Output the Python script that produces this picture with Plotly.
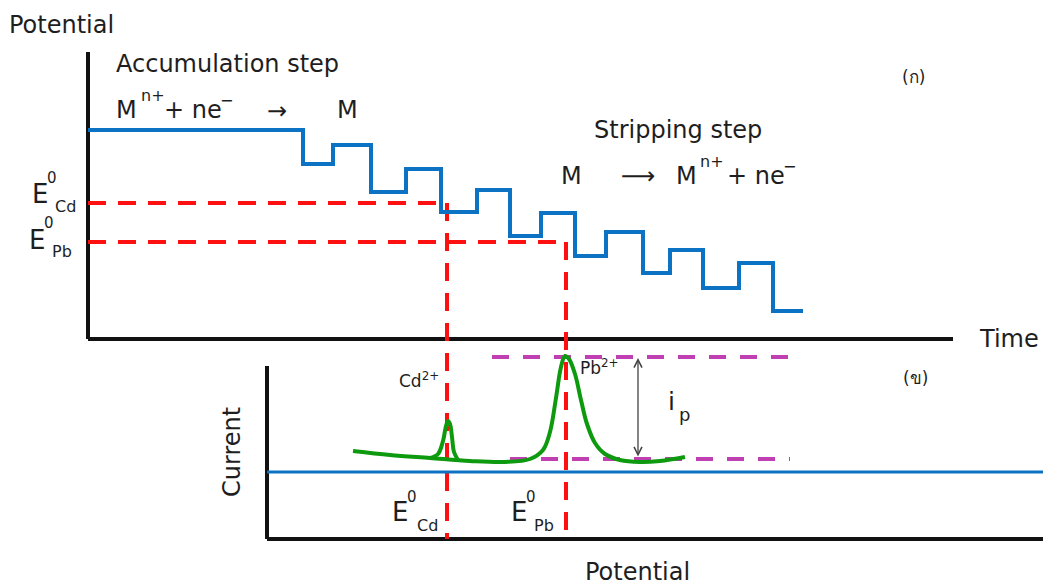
import plotly.graph_objects as go

# ---------------- data (diagram units = reference pixels) ----------------
# accumulation / stripping staircase (top panel)
step_x = [88, 303, 303, 333, 333, 371, 371, 406, 406, 441, 441, 477, 477, 510, 510, 541, 541,
          575, 575, 606, 606, 643, 643, 670, 670, 703, 703, 739, 739, 773, 773, 803]
step_y = [130, 130, 164, 164, 145, 145, 192, 192, 169, 169, 212, 212, 190, 190, 236, 236, 213,
          213, 256, 256, 232, 232, 273, 273, 250, 250, 288, 288, 263, 263, 311, 311]

# standard potentials (top panel levels) and their positions on the potential axis
e0_names = ["Cd", "Pb"]
e0_level = [203, 242]
e0_pos = [447, 566]

# stripping voltammogram (bottom panel)
curve_x = [353, 390, 430, 470, 505, 530, 543, 550, 556, 561, 565, 569, 575, 581, 587, 595,
           605, 620, 640, 660, 685]
curve_y = [451, 455, 458, 461, 462, 459, 450, 432, 398, 367, 356, 359, 374, 400, 424, 443,
           454, 460, 462, 461, 457]
cd_peak_x = [430, 438, 443, 446, 448, 450, 452, 454, 458]
cd_peak_y = [458, 454, 441, 426, 421, 424, 437, 452, 460]

# peak-current reference levels
ip_top = 357
ip_base = 459

BLACK = "#111111"
BLUE = "#0B72C4"
RED = "#FF1010"
GREEN = "#0E9A0E"
MAGENTA = "#C040B4"
TXT = "#1E1E1E"
FONT = "DejaVu Sans, Noto Sans, sans-serif"

fig = go.Figure()


def line(x, y, color, width, dash=None, shape="linear"):
    fig.add_trace(go.Scatter(x=x, y=y, mode="lines",
                             line=dict(color=color, width=width, dash=dash, shape=shape),
                             hoverinfo="skip", showlegend=False))


# axes of the top panel
line([88, 88], [52, 339], BLACK, 4)
line([88, 953], [339, 339], BLACK, 4)
# axes of the bottom panel
line([267, 267], [366, 539], BLACK, 4)
line([267, 1043], [539, 539], BLACK, 4)

# red dashed E0 guides
for lvl, pos in zip(e0_level, e0_pos):
    line([88, pos], [lvl, lvl], RED, 4, dash="18px,12px")
    line([pos, pos], [lvl, 539], RED, 4, dash="18px,12px")

# staircase
line(step_x, step_y, BLUE, 4)

# bottom blue baseline
line([267, 1043], [472, 472], BLUE, 3)

# magenta peak-height lines
line([492, 790], [ip_top, ip_top], MAGENTA, 4, dash="17px,14px")
line([510, 790], [ip_base, ip_base], MAGENTA, 4, dash="17px,14px")

# green voltammogram
line(curve_x, curve_y, GREEN, 4, shape="spline")
line(cd_peak_x, cd_peak_y, GREEN, 4, shape="spline")

annotations = []


def text(x, y, s, size, xanchor="left", yanchor="middle", angle=0, color=TXT):
    annotations.append(dict(x=x, y=y, xref="x", yref="y", text=s, showarrow=False,
                            xanchor=xanchor, yanchor=yanchor, textangle=angle,
                            font=dict(family=FONT, size=size, color=color)))


text(7, 25, "Potential", 24)
text(114, 64, "Accumulation step", 24)

# M^{n+} + ne^-  ->  M   (accumulation)
text(114, 110, "M", 24)
text(139, 95, "n+", 16)
text(162, 110, "+ ne", 24)
text(218, 100, "−", 16)
text(277, 111, "→", 24, xanchor="center")
text(335, 110, "M", 24)

text(592, 130, "Stripping step", 24)
# M  ->  M^{n+} + ne^-   (stripping)
text(559, 176, "M", 24)
text(638, 176, "⟶", 24, xanchor="center")
text(674, 176, "M", 24)
text(698, 161, "n+", 16)
text(725, 176, "+ ne", 24)
text(781, 166, "−", 16)

text(913, 77, "(ก)", 17, xanchor="center")
text(977, 339, "Time", 24)

# E0 labels on the top potential axis (E, superscript 0, subscript element)
e_top_x = [30, 27]
e_top_dy = [-9, -2]
zero_dy = [-25, -19]
sub_x = [53, 50]
sub_dy = [3, 9]
for i, (lvl, name) in enumerate(zip(e0_level, e0_names)):
    text(e_top_x[i], lvl + e_top_dy[i], "E", 26)
    text(e_top_x[i] + 15, lvl + zero_dy[i], "0", 15)
    text(sub_x[i], lvl + sub_dy[i], name, 16)

# E0 labels on the bottom potential axis
for pos, name in zip(e0_pos, e0_names):
    text(pos - 57, 512, "E", 26)
    text(pos - 42, 497, "0", 15)
    text(pos - (32 if name == "Cd" else 34), 525, name, 16)

text(441, 380, "Cd<sup>2+</sup>", 17, xanchor="right")
text(578, 367, "Pb<sup>2+</sup>", 17)
text(666, 401, "i", 25)
text(677, 414, "p", 18)
text(915, 378, "(ข)", 17, xanchor="center")
text(232, 452, "Current", 24, xanchor="center", angle=-90)
text(637, 572, "Potential", 24, xanchor="center")

# double-headed arrow for i_p
annotations.append(dict(x=638, y=ip_top + 1, ax=638, ay=ip_base - 1, xref="x", yref="y",
                        axref="x", ayref="y", text="", showarrow=True, arrowhead=5,
                        startarrowhead=5, arrowside="end+start", arrowwidth=1.3,
                        arrowsize=1.2, startarrowsize=1.2, arrowcolor="#444444"))

fig.update_layout(
    width=1043, height=586,
    margin=dict(l=0, r=0, t=0, b=0),
    paper_bgcolor="white", plot_bgcolor="white",
    xaxis=dict(range=[0, 1043], visible=False, fixedrange=True),
    yaxis=dict(range=[586, 0], visible=False, fixedrange=True),
    annotations=annotations,
    showlegend=False,
)

fig.write_html("out.html")
